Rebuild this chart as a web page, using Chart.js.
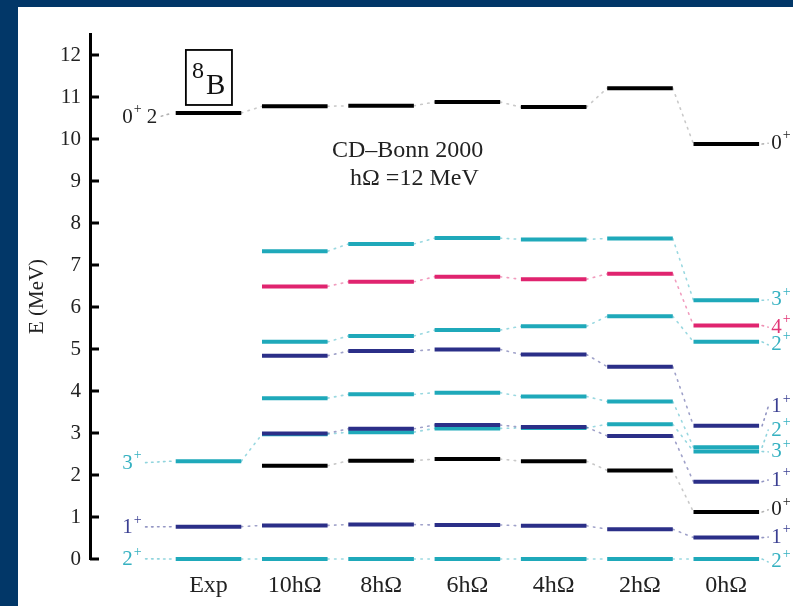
<!DOCTYPE html>
<html>
<head>
<meta charset="utf-8">
<script src="https://cdn.jsdelivr.net/npm/chart.js@4.4.1/dist/chart.umd.min.js"></script>
<style>
html, body { margin: 0; padding: 0; background: #023768; overflow: hidden; }
#frame { position: absolute; left: 18px; top: 7px; width: 775px; height: 599px; background: #fff; }
</style>
</head>
<body>
<div id="frame"><canvas id="levels" width="775" height="599"></canvas></div>
<script>
const columns = ['Exp', '10hΩ', '8hΩ', '6hΩ', '4hΩ', '2hΩ', '0hΩ'];
const yTicks = [0, 1, 2, 3, 4, 5, 6, 7, 8, 9, 10, 11, 12];

// level energies (MeV) per state, one value per column, null = not shown
const black0a = [10.62, 10.78, 10.79, 10.88, 10.76, 11.21, 9.88];
const cyan3a  = [null, 7.33, 7.50, 7.64, 7.61, 7.63, 6.16];
const pink4   = [null, 6.49, 6.60, 6.72, 6.66, 6.79, 5.56];
const cyan2a  = [null, 5.17, 5.31, 5.45, 5.54, 5.78, 5.17];
const navy1a  = [null, 4.84, 4.95, 4.99, 4.87, 4.58, 3.17];
const cyan2b  = [null, 3.83, 3.92, 3.96, 3.87, 3.75, 2.66];
const cyan3b  = [2.33, 2.97, 3.02, 3.11, 3.12, 3.21, 2.56];
const navy1b  = [null, 2.99, 3.10, 3.19, 3.14, 2.93, 1.84];
const black0b = [null, 2.22, 2.34, 2.38, 2.33, 2.11, 1.12];
const navy1c  = [0.77, 0.80, 0.82, 0.81, 0.79, 0.71, 0.51];
const cyan2c  = [0, 0, 0, 0, 0, 0, 0];

const CYAN = '#1fa9ba', NAVY = '#2b2f88', PINK = '#e0246f', BLACK = '#000000';
const CYAN_T = '#35b1c1', NAVY_T = '#3a3f92', PINK_T = '#e23576', BLACK_T = '#222222';

const tracks = [
    { values: black0a, color: BLACK, order: 1 },
    { values: pink4, color: PINK, order: 1 },
    { values: black0b, color: BLACK, order: 1 },
    { values: navy1a, color: NAVY, order: 2 },
    { values: navy1b, color: NAVY, order: 2 },
    { values: navy1c, color: NAVY, order: 2 },
    { values: cyan3a, color: CYAN, order: 3 },
    { values: cyan2a, color: CYAN, order: 3 },
    { values: cyan2b, color: CYAN, order: 3 },
    { values: cyan3b, color: CYAN, order: 3 },
    { values: cyan2c, color: CYAN, order: 3 },
];

// J^pi labels: left of Exp column and right of 0hΩ column
const leftLabels = [
    { j: '0', tail: ' 2', y: 10.52, level: 10.62, color: BLACK_T },
    { j: '3', tail: '', y: 2.27, level: 2.33, color: CYAN_T },
    { j: '1', tail: '', y: 0.74, level: 0.77, color: NAVY_T },
    { j: '2', tail: '', y: -0.02, level: 0, color: CYAN_T },
];
const rightLabels = [
    { j: '0', y: 9.90, level: 9.88, color: BLACK_T },
    { j: '3', y: 6.17, level: 6.16, color: CYAN_T },
    { j: '4', y: 5.52, level: 5.56, color: PINK_T },
    { j: '2', y: 5.10, level: 5.17, color: CYAN_T },
    { j: '1', y: 3.62, level: 3.17, color: NAVY_T },
    { j: '2', y: 3.07, level: 2.66, color: CYAN_T },
    { j: '3', y: 2.55, level: 2.56, color: CYAN_T },
    { j: '1', y: 1.88, level: 1.84, color: NAVY_T },
    { j: '0', y: 1.17, level: 1.12, color: BLACK_T },
    { j: '1', y: 0.52, level: 0.51, color: NAVY_T },
    { j: '2', y: -0.07, level: 0, color: CYAN_T },
];

const half = 0.38;

function levelData(values) {
    const pts = [];
    values.forEach((e, i) => {
        if (e === null) return;
        pts.push({ x: i - half, y: e }, { x: i + half, y: e }, { x: i + 0.5, y: null });
    });
    return pts;
}

function linkData(values) {
    const pts = [];
    for (let i = 0; i < values.length - 1; i++) {
        if (values[i] === null || values[i + 1] === null) continue;
        pts.push({ x: i + half, y: values[i] }, { x: i + 1 - half, y: values[i + 1] }, { x: i + 1, y: null });
    }
    return pts;
}

function fade(hex, a) {
    const n = parseInt(hex.slice(1), 16);
    return `rgba(${n >> 16},${(n >> 8) & 255},${n & 255},${a})`;
}

const datasets = [];
tracks.forEach(t => {
    datasets.push({
        data: levelData(t.values),
        borderColor: t.color,
        borderWidth: 4,
        order: t.order,
    });
    datasets.push({
        data: linkData(t.values),
        borderColor: fade(t.color === BLACK ? '#888888' : t.color, 0.45),
        borderWidth: 1.6,
        borderDash: [1.5, 5.5],
        borderCapStyle: 'round',
        order: 10,
    });
});

function drawJ(ctx, x, y, j, color, tail) {
    ctx.fillStyle = color;
    ctx.textAlign = 'left';
    ctx.textBaseline = 'middle';
    ctx.font = "21px 'Liberation Serif'";
    ctx.fillText(j, x, y);
    let w = ctx.measureText(j).width;
    ctx.font = "14px 'Liberation Serif'";
    ctx.fillText('+', x + w + 1, y - 8);
    w += 1 + ctx.measureText('+').width;
    if (tail) {
        ctx.font = "21px 'Liberation Serif'";
        ctx.fillText(tail, x + w, y);
        w += ctx.measureText(tail).width;
    }
    return w;
}

function dots(ctx, x0, y0, x1, y1, color) {
    ctx.save();
    ctx.strokeStyle = color;
    ctx.lineWidth = 1.6;
    ctx.lineCap = 'round';
    ctx.setLineDash([1.5, 4.5]);
    ctx.beginPath();
    ctx.moveTo(x0, y0);
    ctx.lineTo(x1, y1);
    ctx.stroke();
    ctx.restore();
}

const annotations = {
    id: 'annotations',
    afterDraw(chart) {
        const { ctx, chartArea } = chart;
        const xs = chart.scales.x, ys = chart.scales.y;
        const px = v => xs.getPixelForValue(v);
        const py = v => ys.getPixelForValue(v);
        ctx.save();

        // inward tick marks on the energy axis
        ctx.strokeStyle = '#000';
        ctx.lineWidth = 3;
        yTicks.forEach(v => {
            ctx.beginPath();
            ctx.moveTo(chartArea.left, py(v));
            ctx.lineTo(chartArea.left + 9, py(v));
            ctx.stroke();
        });

        // nucleus box
        ctx.lineWidth = 1.8;
        const bx0 = px(-0.262), bx1 = px(0.272), by0 = py(12.12), by1 = py(10.81);
        ctx.strokeRect(bx0, by0, bx1 - bx0, by1 - by0);
        ctx.fillStyle = '#111';
        ctx.textAlign = 'left';
        ctx.textBaseline = 'alphabetic';
        ctx.font = "24px 'Liberation Serif'";
        ctx.fillText('8', bx0 + 6, by0 + 28);
        ctx.font = "29px 'Liberation Serif'";
        ctx.fillText('B', bx0 + 20, by0 + 44);

        // interaction text
        ctx.fillStyle = '#222';
        ctx.font = "24px 'Liberation Serif'";
        ctx.fillText('CD–Bonn 2000', px(1.431), py(9.57));
        ctx.fillText('hΩ =12 MeV', px(1.640), py(8.90));

        // left J^pi labels
        leftLabels.forEach(l => {
            const x = px(-1.0);
            const w = drawJ(ctx, x, py(l.y), l.j, l.color, l.tail);
            dots(ctx, x + w + 4, py(l.y) - 1, px(-half) - 3, py(l.level), fade(l.color === BLACK_T ? '#777777' : l.color, 0.55));
        });

        // right J^pi labels
        rightLabels.forEach(l => {
            const x = px(6.52);
            drawJ(ctx, x, py(l.y), l.j, l.color, '');
            dots(ctx, px(6 + half) + 3, py(l.level), x - 3, py(l.y), fade(l.color === BLACK_T ? '#777777' : l.color, 0.55));
        });
        ctx.restore();
    }
};

Chart.defaults.font.family = "'Liberation Serif', 'DejaVu Serif', serif";

new Chart(document.getElementById('levels'), {
    type: 'line',
    data: { datasets: datasets },
    options: {
        responsive: false,
        animation: false,
        devicePixelRatio: 1,
        spanGaps: false,
        layout: { padding: { top: 27, right: 0, left: 0, bottom: 0 } },
        elements: {
            point: { radius: 0, hoverRadius: 0 },
            line: { tension: 0, fill: false }
        },
        datasets: { line: { clip: false } },
        plugins: {
            legend: { display: false },
            tooltip: { enabled: false }
        },
        scales: {
            x: {
                type: 'linear',
                min: -1.373,
                max: 6.773,
                afterBuildTicks: s => { s.ticks = columns.map((c, i) => ({ value: i })); },
                ticks: {
                    callback: (v, i) => columns[i],
                    font: { size: 24 },
                    color: '#222',
                    padding: 12,
                    autoSkip: false,
                    maxRotation: 0
                },
                grid: { display: false, drawTicks: false },
                border: { display: false },
                afterFit: s => { s.height = 47; }
            },
            y: {
                type: 'linear',
                min: 0,
                max: 12.5,
                afterBuildTicks: s => { s.ticks = yTicks.map(v => ({ value: v })); },
                ticks: { font: { size: 21 }, color: '#222', padding: 9 },
                grid: { display: false, drawTicks: false },
                border: { display: true, color: '#000', width: 3 },
                title: {
                    display: true,
                    text: 'E (MeV)',
                    font: { size: 21 },
                    color: '#222',
                    padding: { top: 7, bottom: 0 }
                },
                afterFit: s => { s.width = 72; }
            }
        }
    },
    plugins: [annotations]
});
</script>
</body>
</html>
